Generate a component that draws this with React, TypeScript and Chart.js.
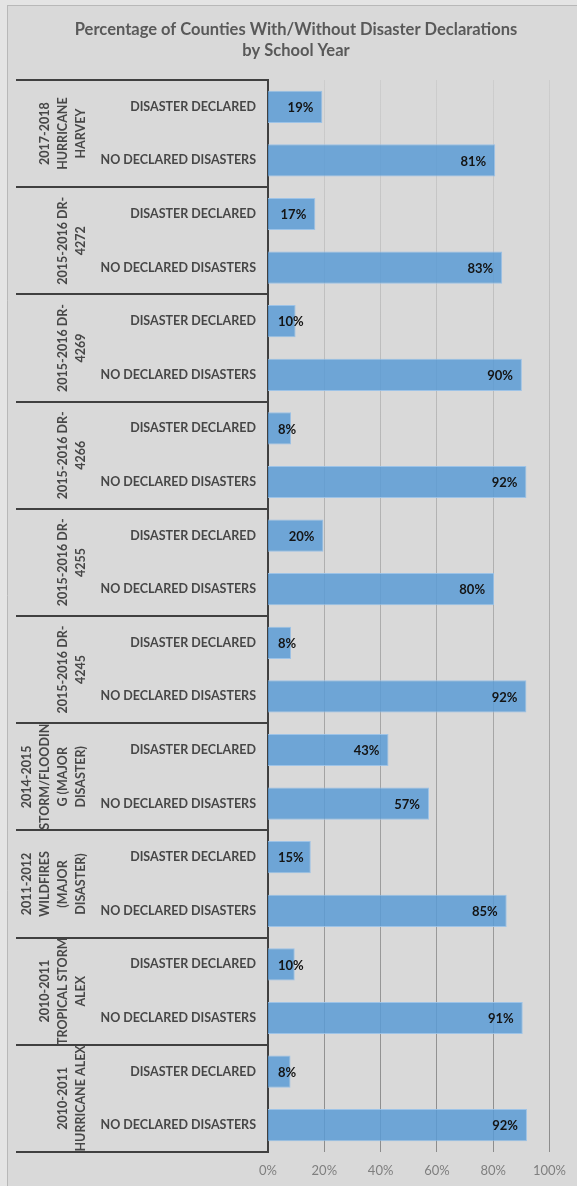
import React, { useEffect, useRef } from "react";
import { Chart, registerables } from "chart.js";

Chart.register(...registerables);

const titleLines: string[] = [
  "Percentage of Counties With/Without Disaster Declarations",
  "by School Year",
];

const groupLabels: string[][] = [
  ["2017-2018", "HURRICANE", "HARVEY"],
  ["2015-2016 DR-", "4272"],
  ["2015-2016 DR-", "4269"],
  ["2015-2016 DR-", "4266"],
  ["2015-2016 DR-", "4255"],
  ["2015-2016 DR-", "4245"],
  ["2014-2015", "STORM/FLOODIN", "G (MAJOR", "DISASTER)"],
  ["2011-2012", "WILDFIRES", "(MAJOR", "DISASTER)"],
  ["2010-2011", "TROPICAL STORM", "ALEX"],
  ["2010-2011", "HURRICANE ALEX"],
];

const seriesLabels: string[] = ["DISASTER DECLARED", "NO DECLARED DISASTERS"];

const declaredValues: number[] = [19.3, 16.8, 9.8, 8.2, 19.7, 8.2, 42.8, 15.2, 9.5, 8];
const notDeclaredValues: number[] = [80.7, 83.2, 90.2, 91.8, 80.3, 91.8, 57.2, 84.8, 90.5, 92];

const xTicks: number[] = [0, 20, 40, 60, 80, 100];

const FONT = "Lato, 'Open Sans', sans-serif";

export default function App() {
  const canvasRef = useRef<HTMLCanvasElement | null>(null);

  useEffect(() => {
    const canvas = canvasRef.current;
    if (!canvas) return;

    const labels: string[] = [];
    const values: number[] = [];
    groupLabels.forEach((_, i) => {
      labels.push(seriesLabels[0]);
      values.push(declaredValues[i]);
      labels.push(seriesLabels[1]);
      values.push(notDeclaredValues[i]);
    });

    const decor = {
      id: "decor",
      beforeDraw(chart: any) {
        const { ctx, width, height } = chart;
        ctx.save();
        ctx.fillStyle = "#e4e4e4";
        ctx.fillRect(0, 0, width, height);
        ctx.fillStyle = "#d9d9d9";
        ctx.fillRect(7, 5, width - 7, height - 5);
        ctx.strokeStyle = "#b8b8b8";
        ctx.lineWidth = 1;
        ctx.beginPath();
        ctx.moveTo(7.5, 5);
        ctx.lineTo(7.5, height);
        ctx.moveTo(7, 5.5);
        ctx.lineTo(width, 5.5);
        ctx.stroke();

        ctx.fillStyle = "#595959";
        ctx.font = `bold 16.5px ${FONT}`;
        ctx.textAlign = "center";
        ctx.textBaseline = "middle";
        titleLines.forEach((t, i) => {
          ctx.fillText(t, 296, 30 + i * 21);
        });
        ctx.restore();
      },
      afterDatasetsDraw(chart: any) {
        const { ctx } = chart;
        const meta = chart.getDatasetMeta(0);
        ctx.save();
        ctx.font = `bold 13px ${FONT}`;
        ctx.fillStyle = "#141414";
        ctx.textAlign = "left";
        ctx.textBaseline = "middle";
        meta.data.forEach((bar: any, i: number) => {
          const txt = Math.round(values[i]) + "%";
          const w = ctx.measureText(txt).width;
          const right = bar.x - 9;
          const left = Math.max(bar.base + 10, right - w);
          ctx.fillText(txt, left, bar.y + 1);
        });
        ctx.restore();
      },
      afterDraw(chart: any) {
        const { ctx, chartArea } = chart;
        const y = chart.scales.y;
        const n = groupLabels.length;
        ctx.save();
        const bounds: number[] = [];
        for (let g = 0; g <= n; g++) {
          if (g === 0) bounds.push(chartArea.top);
          else if (g === n) bounds.push(chartArea.bottom);
          else
            bounds.push(
              (y.getPixelForValue(2 * g - 1) + y.getPixelForValue(2 * g)) / 2
            );
        }
        ctx.strokeStyle = "#404040";
        ctx.lineWidth = 2;
        ctx.beginPath();
        bounds.forEach((b) => {
          const yy = Math.round(b);
          ctx.moveTo(16, yy);
          ctx.lineTo(chartArea.left, yy);
        });
        ctx.stroke();

        ctx.fillStyle = "#474747";
        ctx.font = `bold 12.5px ${FONT}`;
        ctx.textAlign = "center";
        ctx.textBaseline = "middle";
        groupLabels.forEach((lines, g) => {
          const cy = (bounds[g] + bounds[g + 1]) / 2;
          const m = lines.length;
          lines.forEach((line, i) => {
            const x = 81 - 18 * (m - 1 - i);
            ctx.save();
            ctx.translate(x, cy);
            ctx.rotate(-Math.PI / 2);
            ctx.fillText(line, 0, 0);
            ctx.restore();
          });
        });
        ctx.restore();
      },
    };

    const chart = new Chart(canvas, {
      type: "bar",
      data: {
        labels,
        datasets: [
          {
            data: values,
            backgroundColor: "rgba(91,155,213,0.85)",
            borderColor: "rgba(150,192,232,0.9)",
            borderWidth: 1,
            categoryPercentage: 1,
            barPercentage: 0.6,
          },
        ],
      },
      options: {
        indexAxis: "y",
        responsive: false,
        animation: false,
        layout: { padding: { top: 80, right: 25, bottom: 0, left: 0 } },
        plugins: {
          legend: { display: false },
          tooltip: { enabled: false },
          title: { display: false },
        },
        scales: {
          x: {
            min: 0,
            max: 100,
            afterBuildTicks: (s: any) => {
              s.ticks = xTicks.map((v) => ({ value: v }));
            },
            ticks: {
              callback: (v: any) => v + "%",
              color: "#7f7f7f",
              font: { family: FONT, size: 13 },
              padding: 11,
            },
            grid: {
              drawTicks: false,
              lineWidth: (c: any) => (c.index === 0 ? 0 : 1),
              color: (c: any) => {
                const ch = c.chart;
                const area = ch.chartArea;
                if (!area) return "#b0b0b0";
                const g = ch.ctx.createLinearGradient(0, area.top, 0, area.bottom);
                g.addColorStop(0, "#cdcdcd");
                g.addColorStop(1, "#8c8c8c");
                return g;
              },
            },
            border: { display: false },
            afterFit: (s: any) => {
              s.height = 34;
            },
          },
          y: {
            ticks: {
              color: "#474747",
              font: { family: FONT, size: 12.5, weight: "bold" },
              padding: 12,
              autoSkip: false,
            },
            grid: { display: false, drawTicks: false },
            border: { display: true, color: "#404040", width: 2 },
            afterFit: (s: any) => {
              s.width = 268;
            },
          },
        },
      },
      plugins: [decor],
    } as any);

    return () => chart.destroy();
  }, []);

  return (
    <div style={{ position: "absolute", left: 0, top: 0, width: 577, height: 1186 }}>
      <canvas ref={canvasRef} width={577} height={1186} style={{ display: "block" }} />
    </div>
  );
}
